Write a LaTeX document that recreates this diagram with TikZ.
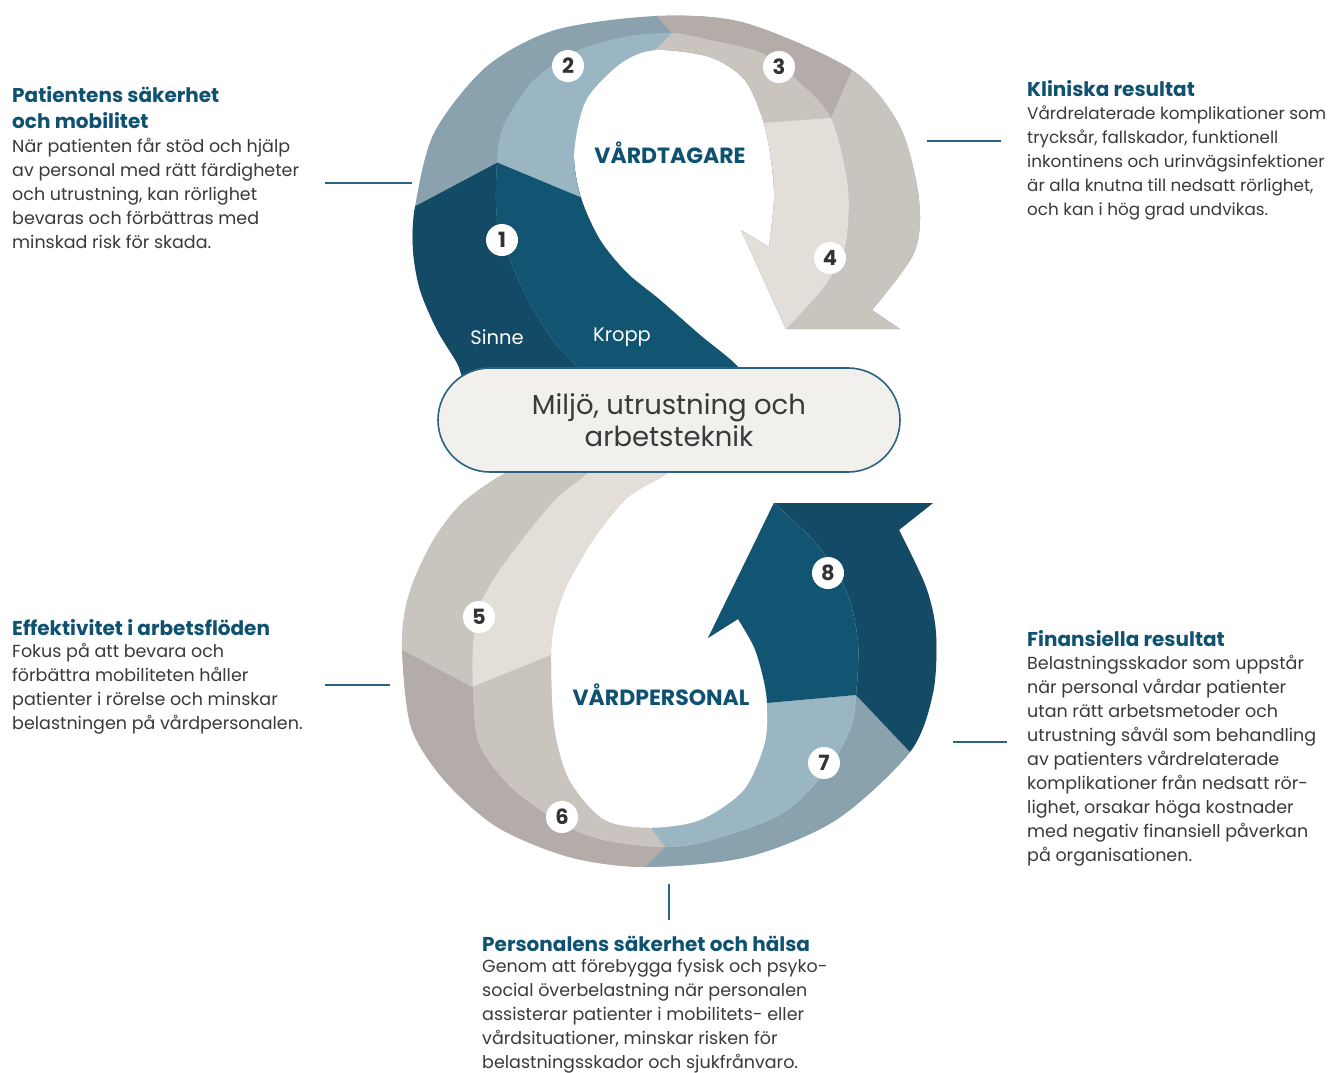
\documentclass[tikz,border=0pt]{standalone}
\usepackage{fontspec}
\setmainfont{Poppins}
\definecolor{cAo}{HTML}{134B67}
\definecolor{cAi}{HTML}{115572}
\definecolor{cBo}{HTML}{8AA2AE}
\definecolor{cBi}{HTML}{9BB6C3}
\definecolor{cCo}{HTML}{B3ACA8}
\definecolor{cCi}{HTML}{CAC4BF}
\definecolor{cDo}{HTML}{C8C4BE}
\definecolor{cDi}{HTML}{E4DED8}
\definecolor{ttl}{HTML}{0F5171}
\definecolor{bodyc}{HTML}{3A3A3A}
\definecolor{linec}{HTML}{2A6383}
\definecolor{pillf}{HTML}{F1F0EC}
\definecolor{numtxt}{HTML}{333333}
\newcommand\txtline[1]{\hbox{#1}}
\begin{document}
\begin{tikzpicture}[x=1pt,y=-1pt,
  txt/.style={inner sep=0pt, anchor=base west, text=bodyc, font=\fontsize{17.5}{24}\selectfont},
  txtnarrow/.style={txt, font=\fontsize{16.8}{24}\selectfont},
  ttlst/.style={inner sep=0pt, anchor=base west, text=ttl, font=\fontsize{20}{26}\selectfont\bfseries},
  conn/.style={draw=linec, line width=1.3pt},
  numc/.style={circle, fill=white, minimum size=32pt, inner sep=0pt, text=numtxt, font=\fontsize{21}{21}\selectfont\bfseries},
  seglab/.style={text=white, font=\fontsize{19.5}{19.5}\selectfont},
  loopt/.style={text=ttl, font=\fontsize{22}{22}\selectfont\bfseries},
  pill/.style={draw=linec, line width=1.6pt, fill=pillf, rounded corners=52pt, minimum width=462pt, minimum height=104pt, align=center, text=bodyc, font=\fontsize{27.5}{32}\selectfont}
]
\useasboundingbox (0,0) rectangle (1334,1072);
\fill[white] (0,0) rectangle (1334,1072);

% ---------- top loop, outer colours ----------
\begin{scope}
\clip plot[smooth] coordinates {(470,395) (463,380) (457,363) (437,330) (420,290) (413,250) (415,207) (434,133) (486,67) (555,30) (657,16) (745,23) (852,70) (900,127) (919,200) (914,253) (872,310)}
  -- (900,329) -- (786,329) -- (741,230) -- (769,247)
  -- plot[smooth] coordinates {(769,247) (774,200) (772,167) (764,123) (745,80) (710,57) (655,50) (621,63) (586,100) (574,153) (581,198) (600,240) (627,273) (660,300) (700,335) (738,367) (750,395)} -- cycle;
\fill[cBo] (300,-20) rectangle (1000,420);
\fill[cAo] (331,251) -- (540,140) -- (620,170) -- (700,420) -- (300,420) -- cycle;
\fill[cCo] (634,-10) -- (713,80) -- (760,200) -- (1000,200) -- (1000,-10) -- cycle;
\fill[cDo] (887,-10) -- (804,180) -- (760,420) -- (1000,420) -- (1000,-10) -- cycle;
\end{scope}
% ---------- top loop, inner colours ----------
\begin{scope}
\clip plot[smooth] coordinates {(590,395) (577,367) (553,340) (530,303) (510,260) (497,217) (497,163) (503,127) (531,83) (572,53) (624,37) (672,33) (710,40) (762,53) (797,80) (831,118) (848,187) (845,247) (824,287) (786,329)}
  -- (741,230) -- (769,247)
  -- plot[smooth] coordinates {(769,247) (774,200) (772,167) (764,123) (745,80) (710,57) (655,50) (621,63) (586,100) (574,153) (581,198) (600,240) (627,273) (660,300) (700,335) (738,367) (750,395)} -- cycle;
\fill[cBi] (300,-20) rectangle (1000,420);
\fill[cAi] (455,145) -- (640,222) -- (735,260) -- (760,420) -- (400,420) -- cycle;
\fill[cCi] (689,16) -- (640,65) -- (700,150) -- (1000,150) -- (1000,16) -- cycle;
\fill[cDi] (950,109) -- (764,123) -- (730,126) -- (730,340) -- (950,340) -- cycle;
\end{scope}

% ---------- bottom loop, outer colours ----------
\begin{scope}
\clip plot[smooth] coordinates {(560,450) (505,473) (462,503) (435,537) (415,577) (405,610) (402,650) (411,727) (444,780) (497,827) (569,857) (645,867) (747,857) (836,820) (910,752) (933,693) (936,633) (926,587) (899,530)}
  -- (933,503) -- (774,503) -- (708,638) -- (738,619)
  -- plot[smooth] coordinates {(738,619) (754,647) (763,677) (767,703) (765,743) (744,790) (701,820) (651,828) (604,820) (569,780) (554,727) (551,655) (555,620) (568,583) (595,537) (628,497) (668,473) (690,450)} -- cycle;
\fill[cDo] (300,430) rectangle (1000,920);
\fill[cCo] (330,612) -- (542,724) -- (600,800) -- (685,827) -- (605,907) -- (330,907) -- cycle;
\fill[cBo] (685,827) -- (605,907) -- (980,907) -- (964,809) -- (856,695) -- (800,760) -- cycle;
\fill[cAo] (964,809) -- (856,695) -- (760,600) -- (760,480) -- (1000,480) -- (1000,809) -- cycle;
\end{scope}
% ---------- bottom loop, inner colours ----------
\begin{scope}
\clip plot[smooth] coordinates {(610,450) (588,473) (555,500) (522,540) (495,577) (478,610) (473,647) (473,687) (479,743) (511,787) (561,823) (604,840) (665,847) (711,840) (783,813) (829,767) (851,727) (856,695) (858,643) (847,593) (819,547) (774,503)}
  -- (708,638) -- (738,619)
  -- plot[smooth] coordinates {(738,619) (754,647) (763,677) (767,703) (765,743) (744,790) (701,820) (651,828) (604,820) (569,780) (554,727) (551,655) (555,620) (568,583) (595,537) (628,497) (668,473) (690,450)} -- cycle;
\fill[cDi] (300,430) rectangle (1000,920);
\fill[cCi] (393,719) -- (630,623) -- (637,809) -- (679,866) -- (380,880) -- cycle;
\fill[cBi] (637,809) -- (679,866) -- (950,870) -- (945,687) -- (700,709) -- cycle;
\fill[cAi] (945,687) -- (700,709) -- (700,480) -- (960,480) -- cycle;
\end{scope}

% ---------- centre pill ----------
\node[pill] (env) at (669,420) {Miljö, utrustning och\\arbetsteknik};

% ---------- loop labels ----------
\node[loopt] (vt) at (670,153) {VÅRDTAGARE};
\node[loopt] (vp) at (661,695) {VÅRDPERSONAL};
\node[seglab] (sinne) at (497,337) {Sinne};
\node[seglab] (kropp) at (622,337) {Kropp};

% ---------- numbers ----------
\node[numc] (n1) at (502,240) {1};
\node[numc] (n2) at (568,66) {2};
\node[numc] (n3) at (779,67) {3};
\node[numc] (n4) at (830,258) {4};
\node[numc] (n5) at (479,617) {5};
\node[numc] (n6) at (562,817) {6};
\node[numc] (n7) at (824,763) {7};
\node[numc] (n8) at (828,573) {8};

% ---------- text blocks ----------
\node[ttlst] (t1) at (12,102) {\vtop{\txtline{Patientens säkerhet}\txtline{och mobilitet}}};
\node[txt] (b1) at (12,152) {\vtop{\txtline{När patienten får stöd och hjälp}\txtline{av personal med rätt färdigheter}\txtline{och utrustning, kan rörlighet}\txtline{bevaras och förbättras med}\txtline{minskad risk för skada.}}};

\node[ttlst] (t2) at (1027,96) {Kliniska resultat};
\node[txtnarrow] (b2) at (1027,119) {\vtop{\txtline{Vårdrelaterade komplikationer som}\txtline{trycksår, fallskador, funktionell}\txtline{inkontinens och urinvägsinfektioner}\txtline{är alla knutna till nedsatt rörlighet,}\txtline{och kan i hög grad undvikas.}}};

\node[ttlst] (t3) at (12,635) {Effektivitet i arbetsflöden};
\node[txt] (b3) at (12,657) {\vtop{\txtline{Fokus på att bevara och}\txtline{förbättra mobiliteten håller}\txtline{patienter i rörelse och minskar}\txtline{belastningen på vårdpersonalen.}}};

\node[ttlst] (t4) at (1027,646) {Finansiella resultat};
\node[txt] (b4) at (1027,669) {\vtop{\txtline{Belastningsskador som uppstår}\txtline{när personal vårdar patienter}\txtline{utan rätt arbetsmetoder och}\txtline{utrustning såväl som behandling}\txtline{av patienters vårdrelaterade}\txtline{komplikationer från nedsatt rör-}\txtline{lighet, orsakar höga kostnader}\txtline{med negativ finansiell påverkan}\txtline{på organisationen.}}};

\node[ttlst] (t5) at (482,951) {Personalens säkerhet och hälsa};
\node[txt] (b5) at (482,972) {\vtop{\txtline{Genom att förebygga fysisk och psyko-}\txtline{social överbelastning när personalen}\txtline{assisterar patienter i mobilitets- eller}\txtline{vårdsituationer, minskar risken för}\txtline{belastningsskador och sjukfrånvaro.}}};

% ---------- connector lines ----------
\coordinate (l1a) at (325,183); \coordinate (l1b) at (412,183);
\coordinate (l2a) at (927,141); \coordinate (l2b) at (1001,141);
\coordinate (l3a) at (325,685); \coordinate (l3b) at (390,685);
\coordinate (l4a) at (953,742); \coordinate (l4b) at (1007,742);
\coordinate (l5a) at (669,884); \coordinate (l5b) at (669,920);
\draw[conn] (l1a) -- (l1b);
\draw[conn] (l2a) -- (l2b);
\draw[conn] (l3a) -- (l3b);
\draw[conn] (l4a) -- (l4b);
\draw[conn] (l5a) -- (l5b);
\end{tikzpicture}
\end{document}
